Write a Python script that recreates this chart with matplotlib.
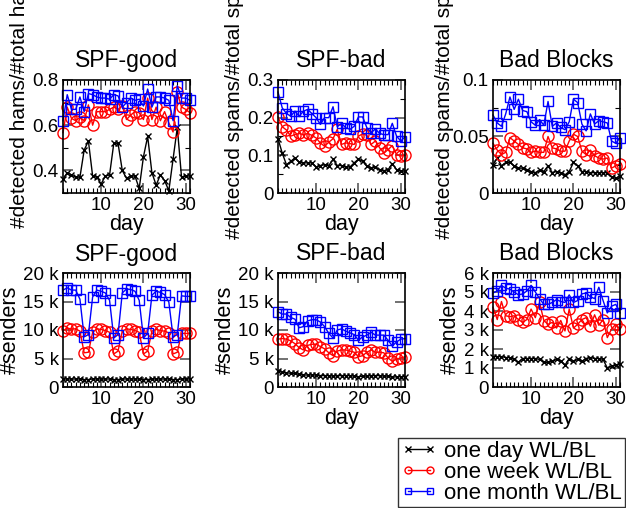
import matplotlib.pyplot as plt
from matplotlib.ticker import MultipleLocator

plt.rcParams['font.family'] = ['Liberation Sans', 'DejaVu Sans']

days = list(range(1, 32))
titles = ['SPF-good', 'SPF-bad', 'Bad Blocks']
series_labels = ['one day WL/BL', 'one week WL/BL', 'one month WL/BL']

# top row: detection ratio
ratio_good_day = [0.36, 0.39, 0.38, 0.37, 0.37, 0.49, 0.53, 0.375, 0.37, 0.34, 0.375,
                  0.38, 0.52, 0.52, 0.40, 0.365, 0.375, 0.375, 0.32, 0.46, 0.55, 0.39,
                  0.335, 0.38, 0.355, 0.31, 0.45, 0.59, 0.37, 0.375, 0.375]
ratio_good_week = [0.567, 0.68, 0.63, 0.62, 0.635, 0.62, 0.69, 0.60, 0.66, 0.66, 0.66,
                   0.67, 0.68, 0.67, 0.685, 0.625, 0.645, 0.66, 0.655, 0.625, 0.72, 0.625,
                   0.68, 0.62, 0.66, 0.61, 0.57, 0.745, 0.68, 0.67, 0.655]
ratio_good_month = [0.62, 0.735, 0.67, 0.67, 0.725, 0.66, 0.74, 0.735, 0.725, 0.72, 0.72,
                    0.715, 0.735, 0.73, 0.68, 0.70, 0.72, 0.71, 0.715, 0.685, 0.76, 0.68,
                    0.725, 0.725, 0.72, 0.71, 0.62, 0.775, 0.72, 0.72, 0.71]

ratio_bad_day = [0.144, 0.106, 0.075, 0.084, 0.093, 0.082, 0.08, 0.08, 0.08, 0.069, 0.073,
                 0.075, 0.073, 0.089, 0.073, 0.073, 0.069, 0.069, 0.08, 0.09, 0.084, 0.071,
                 0.067, 0.069, 0.062, 0.059, 0.062, 0.078, 0.062, 0.058, 0.058]
ratio_bad_week = [0.202, 0.176, 0.167, 0.151, 0.155, 0.158, 0.155, 0.158, 0.153, 0.146, 0.133,
                  0.124, 0.135, 0.144, 0.169, 0.129, 0.133, 0.131, 0.129, 0.151, 0.157, 0.153,
                  0.129, 0.138, 0.12, 0.106, 0.115, 0.126, 0.102, 0.098, 0.1]
ratio_bad_month = [0.268, 0.226, 0.211, 0.204, 0.217, 0.204, 0.217, 0.222, 0.211, 0.2, 0.182,
                   0.2, 0.2, 0.229, 0.176, 0.185, 0.173, 0.169, 0.177, 0.202, 0.202, 0.173,
                   0.16, 0.17, 0.158, 0.155, 0.155, 0.185, 0.151, 0.138, 0.149]

ratio_bb_day = [0.025, 0.031, 0.024, 0.027, 0.027, 0.024, 0.022, 0.022, 0.02, 0.019, 0.018,
                0.02, 0.019, 0.024, 0.018, 0.019, 0.018, 0.016, 0.019, 0.027, 0.024, 0.019,
                0.019, 0.018, 0.018, 0.018, 0.018, 0.018, 0.014, 0.013, 0.015]
ratio_bb_week = [0.044, 0.038, 0.034, 0.036, 0.049, 0.046, 0.043, 0.04, 0.039, 0.036, 0.037,
                 0.036, 0.036, 0.05, 0.04, 0.039, 0.037, 0.037, 0.046, 0.052, 0.05, 0.037,
                 0.034, 0.038, 0.033, 0.031, 0.03, 0.031, 0.022, 0.024, 0.026]
ratio_bb_month = [0.069, 0.062, 0.059, 0.07, 0.085, 0.074, 0.083, 0.073, 0.072, 0.063, 0.06,
                  0.065, 0.06, 0.081, 0.059, 0.062, 0.058, 0.056, 0.063, 0.083, 0.08, 0.061,
                  0.055, 0.07, 0.061, 0.064, 0.063, 0.062, 0.046, 0.044, 0.049]

# bottom row: number of senders (thousands)
senders_good_day = [1.4, 1.4, 1.4, 1.4, 1.4, 1.3, 1.3, 1.4, 1.4, 1.4, 1.4, 1.4, 1.3, 1.3,
                    1.4, 1.4, 1.4, 1.4, 1.4, 1.3, 1.3, 1.4, 1.4, 1.4, 1.4, 1.4, 1.3, 1.3,
                    1.4, 1.4, 1.4]
senders_good_week = [9.9, 10.3, 10.2, 10.2, 9.8, 6.0, 6.1, 9.6, 10.2, 10.1, 9.9, 9.6, 5.8,
                     6.3, 9.8, 10.2, 10.1, 9.9, 9.6, 5.8, 6.3, 9.8, 10.1, 9.9, 9.8, 9.5, 5.8,
                     6.1, 9.4, 9.4, 9.4]
senders_good_month = [17.0, 17.4, 17.0, 17.0, 15.4, 8.8, 9.2, 15.8, 17.0, 16.8, 16.5, 15.2,
                      8.6, 9.2, 16.5, 17.2, 17.1, 16.8, 15.2, 8.6, 9.4, 16.1, 16.8, 16.6,
                      16.2, 14.9, 8.8, 9.2, 16.0, 15.9, 15.9]

senders_bad_day = [2.8, 2.6, 2.5, 2.4, 2.4, 2.2, 2.1, 2.1, 2.1, 2.1, 2.0, 2.0, 2.0, 1.9, 2.0,
                   2.0, 2.0, 2.0, 1.9, 1.8, 1.9, 1.9, 2.0, 2.0, 2.0, 1.9, 1.9, 1.7, 1.8, 1.8,
                   1.8]
senders_bad_week = [8.4, 8.5, 8.4, 8.1, 7.6, 6.9, 6.5, 7.3, 7.5, 7.5, 7.1, 6.7, 6.0, 5.5, 6.3,
                    6.5, 6.5, 6.3, 6.1, 5.3, 5.5, 6.1, 6.5, 6.1, 6.1, 6.0, 5.1, 4.5, 4.9, 5.1,
                    5.3]
senders_bad_month = [13.2, 12.8, 12.8, 12.2, 11.9, 10.4, 10.6, 11.6, 11.8, 11.8, 11.4, 10.6,
                     9.4, 8.6, 10.0, 10.2, 9.8, 9.5, 9.2, 8.2, 8.8, 9.1, 9.6, 9.1, 9.1, 9.1,
                     8.2, 7.2, 7.9, 8.4, 8.5]

senders_bb_day = [1.6, 1.6, 1.6, 1.55, 1.55, 1.45, 1.3, 1.5, 1.5, 1.5, 1.5, 1.45, 1.3, 1.3,
                  1.35, 1.45, 1.35, 1.15, 1.5, 1.35, 1.45, 1.35, 1.5, 1.55, 1.5, 1.5, 1.45,
                  1.0, 1.1, 1.15, 1.2]
senders_bb_week = [4.2, 3.55, 4.5, 3.75, 3.7, 3.75, 3.55, 3.4, 3.55, 4.1, 3.65, 4.45, 3.5,
                   3.3, 3.4, 3.1, 3.5, 2.95, 4.1, 3.1, 3.3, 3.55, 3.65, 3.2, 3.8, 3.25, 3.55,
                   2.6, 3.05, 3.3, 3.05]
senders_bb_month = [4.95, 5.05, 5.35, 5.2, 5.15, 5.0, 4.85, 4.9, 5.05, 5.35, 5.0, 4.65, 4.35,
                    4.35, 4.45, 4.6, 4.5, 4.45, 4.85, 4.45, 4.55, 4.9, 4.95, 4.75, 4.65, 5.25,
                    4.55, 3.9, 4.25, 4.35, 3.9]

top_data = [(ratio_good_day, ratio_good_week, ratio_good_month),
            (ratio_bad_day, ratio_bad_week, ratio_bad_month),
            (ratio_bb_day, ratio_bb_week, ratio_bb_month)]
bottom_data = [(senders_good_day, senders_good_week, senders_good_month),
               (senders_bad_day, senders_bad_week, senders_bad_month),
               (senders_bb_day, senders_bb_week, senders_bb_month)]

top_ylabels = ['#detected hams/#total hams', '#detected spams/#total spams',
               '#detected spams/#total spams']
top_ylims = [(0.3, 0.8), (0, 0.3), (0, 0.1)]
top_yticks = [[0.4, 0.6, 0.8], [0, 0.1, 0.2, 0.3], [0, 0.05, 0.1]]
top_yticklabels = [['0.4', '0.6', '0.8'], ['0', '0.1', '0.2', '0.3'], ['0', '0.05', '0.1']]
top_yminor = [0.1, 0.05, 0.025]
top_label_x = [-0.27, -0.27, -0.31]

bottom_ylims = [(0, 20), (0, 20), (0, 6)]
bottom_yticks = [[0, 5, 10, 15, 20], [0, 5, 10, 15, 20], [0, 1, 2, 3, 4, 5, 6]]
bottom_yticklabels = [['0', '5 k', '10 k', '15 k', '20 k'], ['0', '5 k', '10 k', '15 k', '20 k'],
                      ['0', '1 k', '2 k', '3 k', '4 k', '5 k', '6 k']]

styles = [dict(color='black', marker='x', markersize=5, mew=1),
          dict(color='red', marker='o', markersize=8, mfc='none', mew=1),
          dict(color='blue', marker='s', markersize=7, mfc='none', mew=1)]

fig = plt.figure(figsize=(6.26, 5.08), dpi=100)
lefts = [63 / 626, 278 / 626, 493 / 626]
W = 127 / 626


def style_axes(ax):
    ax.set_xlim(1, 31)
    ax.set_xticks([10, 20, 30])
    ax.xaxis.set_minor_locator(MultipleLocator(1))
    ax.tick_params(which='both', direction='in', top=True, right=True, labelsize=13.5, pad=3)
    ax.tick_params(which='major', length=7, color='0.35', width=1.2)
    ax.tick_params(which='minor', length=3.5, color='black', width=0.8)
    ax.set_xlabel('day', fontsize=15.5, labelpad=0)
    for s in ax.spines.values():
        s.set_linewidth(1.2)


handles = []
for i in range(3):
    ax = fig.add_axes([lefts[i], 1 - 193 / 508, W, 113 / 508])
    for j in range(3):
        ln, = ax.plot(days, top_data[i][j], lw=1, clip_on=False, label=series_labels[j], **styles[j])
        if i == 0:
            handles.append(ln)
    style_axes(ax)
    ax.set_ylim(*top_ylims[i])
    ax.set_yticks(top_yticks[i])
    ax.set_yticklabels(top_yticklabels[i])
    ax.yaxis.set_minor_locator(MultipleLocator(top_yminor[i]))
    ax.set_title(titles[i], fontsize=16.5, pad=9)
    ax.set_ylabel(top_ylabels[i], fontsize=15)
    ax.yaxis.set_label_coords(top_label_x[i], 0.85)

    ax = fig.add_axes([lefts[i], 1 - 387 / 508, W, 114 / 508])
    for j in range(3):
        ax.plot(days, bottom_data[i][j], lw=1, clip_on=False, **styles[j])
    style_axes(ax)
    ax.set_ylim(*bottom_ylims[i])
    ax.set_yticks(bottom_yticks[i])
    ax.set_yticklabels(bottom_yticklabels[i])
    ax.set_title(titles[i], fontsize=16.5, pad=9)
    ax.set_ylabel('#senders', fontsize=15.5, labelpad=2)

leg = fig.legend(handles=handles, loc='lower right', bbox_to_anchor=(0.999, 0.001),
                 numpoints=2, fontsize=16, frameon=True, fancybox=False,
                 edgecolor='black', handlelength=1.6, handletextpad=0.35,
                 labelspacing=0.0, borderpad=0.15, borderaxespad=0)
leg.get_frame().set_linewidth(1)
for h in leg.legend_handles:
    h.set_markersize(5)

fig.savefig('out.png', dpi=100)
